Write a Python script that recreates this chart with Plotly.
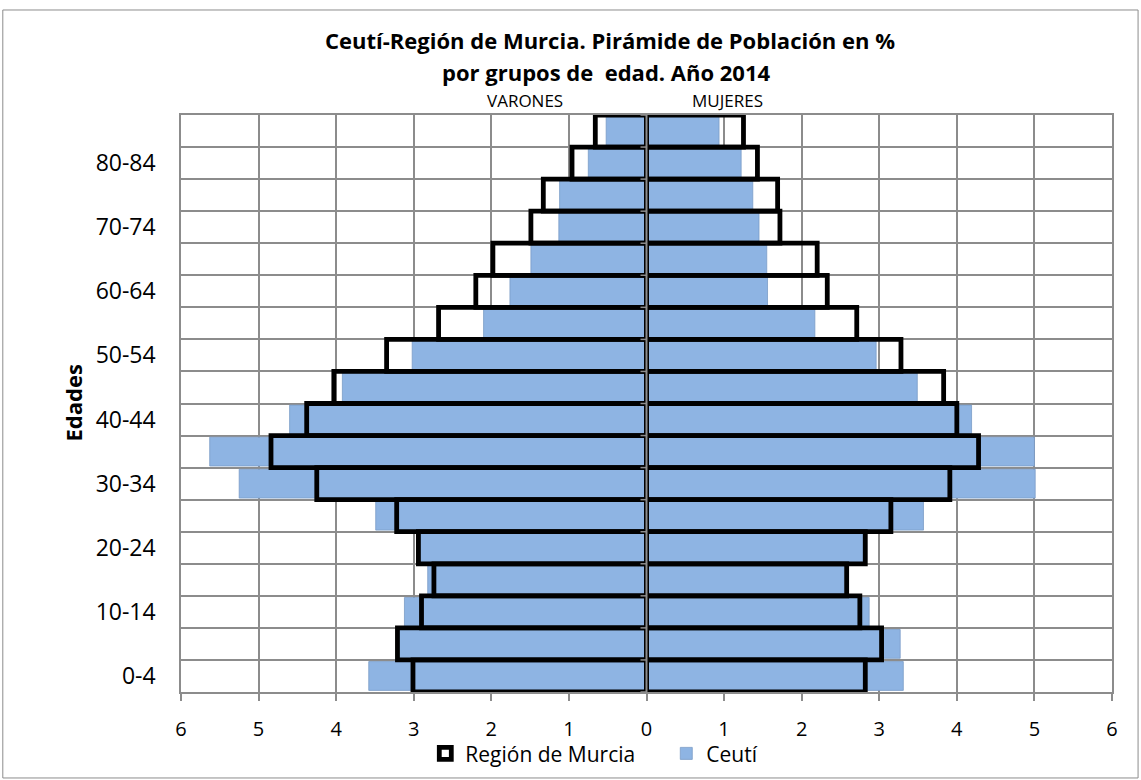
import plotly.graph_objects as go

# age groups, bottom to top
ages = ["0-4", "5-9", "10-14", "15-19", "20-24", "25-29", "30-34", "35-39", "40-44",
        "45-49", "50-54", "55-59", "60-64", "65-69", "70-74", "75-79", "80-84", "85+"]

# % of population
murcia_varones = [3.01, 3.21, 2.90, 2.74, 2.94, 3.22, 4.25, 4.84, 4.38,
                  4.03, 3.35, 2.68, 2.20, 1.98, 1.49, 1.33, 0.96, 0.66]
murcia_mujeres = [2.82, 3.03, 2.75, 2.58, 2.82, 3.15, 3.91, 4.28, 4.00,
                  3.83, 3.28, 2.71, 2.33, 2.20, 1.72, 1.69, 1.43, 1.25]
ceuti_varones = [3.58, 3.20, 3.12, 2.82, 2.92, 3.49, 5.25, 5.63, 4.60,
                 3.92, 3.02, 2.10, 1.76, 1.49, 1.13, 1.12, 0.75, 0.52]
ceuti_mujeres = [3.31, 3.27, 2.87, 2.55, 2.79, 3.57, 5.01, 5.00, 4.19,
                 3.49, 2.96, 2.17, 1.56, 1.55, 1.45, 1.37, 1.22, 0.935]

x_ticks = [-6, -5, -4, -3, -2, -1, 0, 1, 2, 3, 4, 5, 6]

FONT = "Open Sans"
BLUE = "#8EB4E3"
GRID = "#8c8c8c"

fig = go.Figure()

# Ceuti (blue, slightly narrower) underneath
fig.add_trace(go.Bar(y=ages, x=[-v for v in ceuti_varones], orientation="h", width=0.9,
                     name="Ceutí", legendgroup="c", legendrank=2,
                     marker=dict(color=BLUE, line=dict(color="#7a9cc6", width=0.8)),
                     hoverinfo="skip"))
fig.add_trace(go.Bar(y=ages, x=ceuti_mujeres, orientation="h", width=0.9,
                     name="Ceutí", legendgroup="c", showlegend=False,
                     marker=dict(color=BLUE, line=dict(color="#7a9cc6", width=0.8)),
                     hoverinfo="skip"))

# Region de Murcia: outline only, on top
fig.add_trace(go.Bar(y=ages, x=[-v for v in murcia_varones], orientation="h", width=1.0,
                     name="Región de Murcia", legendgroup="m", legendrank=1,
                     marker=dict(color="rgba(255,255,255,0)", line=dict(color="black", width=4.8)),
                     hoverinfo="skip"))
fig.add_trace(go.Bar(y=ages, x=murcia_mujeres, orientation="h", width=1.0,
                     name="Región de Murcia", legendgroup="m", showlegend=False,
                     marker=dict(color="rgba(255,255,255,0)", line=dict(color="black", width=4.8)),
                     hoverinfo="skip"))

shapes = []
# vertical axis at x=0 with small ticks at group boundaries
shapes.append(dict(type="line", xref="x", yref="paper", x0=0, x1=0, y0=0, y1=1,
                   line=dict(color=GRID, width=2), layer="above"))
for i in range(len(ages) + 1):
    shapes.append(dict(type="line", xref="x", yref="y", xsizemode="pixel", xanchor=0,
                       x0=-6, x1=0, y0=i - 0.5, y1=i - 0.5,
                       line=dict(color=GRID, width=1.5), layer="above"))
# chart frame
shapes.append(dict(type="rect", xref="paper", yref="paper", x0=-0.1914, x1=1.028,
                   y0=-0.149, y1=1.182, line=dict(color=GRID, width=1)))

annotations = [
    dict(text="<b>Ceutí-Región de Murcia. Pirámide de Población en %</b>", x=0.461, y=1.13,
         font=dict(size=22, color="black")),
    dict(text="<b>por grupos de  edad. Año 2014</b>", x=0.456, y=1.0745,
         font=dict(size=22, color="black")),
    dict(text="VARONES", x=0.370, y=1.0243, font=dict(size=17, color="black")),
    dict(text="MUJERES", x=0.587, y=1.0243, font=dict(size=17, color="black")),
    dict(text="<b>Edades</b>", x=-0.117, y=0.5, textangle=-90,
         font=dict(size=22, color="black")),
]
for a in annotations:
    a.update(xref="paper", yref="paper", showarrow=False, xanchor="center", yanchor="middle")

fig.update_layout(
    width=1141, height=780,
    margin=dict(l=181, r=29, t=115, b=88, autoexpand=False),
    barmode="overlay",
    paper_bgcolor="white", plot_bgcolor="white",
    font=dict(family=FONT, color="black"),
    showlegend=True,
    legend=dict(orientation="h", x=0.2624, y=-0.107, xanchor="left", yanchor="middle",
                entrywidth=196, entrywidthmode="pixels",
                font=dict(size=21), bgcolor="rgba(0,0,0,0)"),
    shapes=shapes,
    annotations=annotations,
)

fig.update_xaxes(range=[-6, 6], tickvals=x_ticks, ticktext=[str(abs(v)) for v in x_ticks],
                 showgrid=True, gridcolor=GRID, gridwidth=1.5, zeroline=False,
                 showline=True, linecolor=GRID, linewidth=1.5, mirror=True,
                 ticks="outside", ticklen=7, tickcolor=GRID, tickwidth=1.5,
                 ticklabelstandoff=11, tickfont=dict(size=20))

fig.update_yaxes(type="category", categoryorder="array", categoryarray=ages,
                 tickvals=ages, ticktext=[a if i % 2 == 0 else "" for i, a in enumerate(ages)],
                 tickson="boundaries", range=[-0.5, len(ages) - 0.5],
                 showgrid=True, gridcolor=GRID, gridwidth=1.5,
                 showline=True, linecolor=GRID, linewidth=1.5, mirror=True,
                 ticks="", ticklabelstandoff=19, tickfont=dict(size=23))

fig.write_html("out.html", config={"displayModeBar": False},
               post_script="document.body.style.margin='0';")
